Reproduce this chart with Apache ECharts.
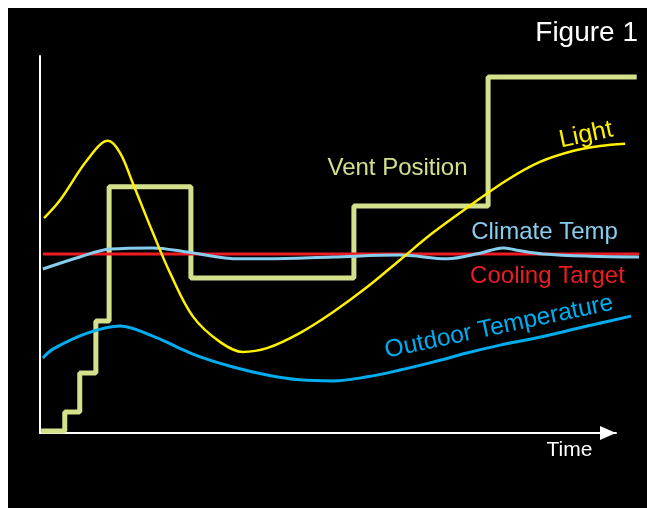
<!DOCTYPE html>
<html>
<head>
<meta charset="utf-8">
<script src="https://cdn.jsdelivr.net/npm/echarts@6/dist/echarts.min.js"></script>
<style>
  html, body { margin: 0; padding: 0; background: #fff; }
  #chart { position: absolute; left: 8px; top: 8px; width: 639px; height: 500px; background: #000; }
</style>
</head>
<body>
<div id="chart"></div>
<script>
// time runs 0..100 up to the arrow, curves carry on a little past it; values in arbitrary units 0..100
var ventTime = [0.2, 4.3, 6.9, 9.7, 12.0, 26.2, 54.5, 77.8, 103.6];
var ventPos = [0.5, 5.6, 15.9, 29.7, 65.3, 41.1, 60.2, 94.4, 94.4];

var lightTime = [0.7, 3.5, 8.2, 11.8, 13.9, 16.1, 19.6, 22.6, 26.6, 31.3, 35.2, 39.4, 45.1, 50.9, 56.8, 62.5, 68.2, 74.1, 81.1, 86.8, 92.5, 97.2, 101.6];
var light = [57.0, 61.8, 72.4, 77.5, 74.3, 66.3, 53.1, 42.4, 30.8, 24.1, 21.5, 22.5, 26.5, 32.1, 38.7, 45.9, 53.1, 59.7, 67.1, 71.9, 74.8, 76.1, 76.7];

var climateTime = [0.5, 6.9, 12.2, 19.6, 25.5, 34.7, 39.4, 50.9, 62.5, 70.7, 76.4, 80.4, 82.8, 87.3, 95.5, 104.0];
var climate = [43.5, 46.7, 48.8, 49.1, 48.0, 46.2, 46.2, 46.7, 47.2, 46.2, 47.7, 49.1, 48.5, 47.5, 46.9, 46.7];

var outdoorTime = [0.5, 2.3, 8.2, 13.9, 19.6, 23.8, 27.8, 33.5, 39.4, 45.1, 50.9, 56.8, 62.5, 68.2, 74.1, 79.9, 86.1, 94.3, 102.6];
var outdoor = [19.9, 22.3, 26.5, 28.4, 25.7, 22.8, 20.2, 17.5, 15.4, 14.1, 13.8, 14.9, 16.7, 18.8, 21.2, 23.3, 25.2, 28.1, 31.0];

var coolingTime = [0.5, 104.0];
var cooling = [47.5, 47.5];

function pairs(xs, ys) {
  return xs.map(function (x, i) { return [x, ys[i]]; });
}

var font = '"Liberation Sans", Arial, sans-serif';

function label(text, x, y, size, color, angle) {
  return {
    type: 'text',
    x: x,
    y: y,
    rotation: (angle || 0) * Math.PI / 180,
    style: {
      text: text,
      fill: color,
      fontSize: size,
      fontFamily: font,
      align: 'center',
      verticalAlign: 'middle'
    }
  };
}

function curve(name, xs, ys, color, width) {
  return {
    name: name,
    type: 'line',
    smooth: 0.35,
    data: pairs(xs, ys),
    symbol: 'none',
    clip: false,
    lineStyle: { color: color, width: width }
  };
}

var hidden = {
  axisLine: { show: false },
  axisTick: { show: false },
  axisLabel: { show: false },
  splitLine: { show: false }
};

var chart = echarts.init(document.getElementById('chart'));
var option = {
  backgroundColor: '#000',
  animation: false,
  grid: [
    // plot area, runs out to the right edge
    { left: 32, top: 48, width: 599, height: 377 },
    // the drawn axes, ending at the arrow
    { left: 32, top: 48, width: 576, height: 377 }
  ],
  xAxis: [
    Object.assign({ type: 'value', gridIndex: 0, min: 0, max: 104 }, hidden),
    {
      type: 'value',
      gridIndex: 1,
      min: 0,
      max: 100,
      axisLine: {
        onZero: false,
        symbol: ['none', 'triangle'],
        symbolSize: [14, 16],
        symbolOffset: [0, -8],
        lineStyle: { color: '#fff', width: 2 }
      },
      axisTick: { show: false },
      axisLabel: { show: false },
      splitLine: { show: false }
    }
  ],
  yAxis: [
    {
      type: 'value',
      gridIndex: 0,
      min: 0,
      max: 100,
      axisLine: { show: true, lineStyle: { color: '#fff', width: 2 } },
      axisTick: { show: false },
      axisLabel: { show: false },
      splitLine: { show: false }
    },
    Object.assign({ type: 'value', gridIndex: 1, min: 0, max: 100 }, hidden)
  ],
  series: [
    {
      name: 'Vent Position',
      type: 'line',
      step: 'end',
      data: pairs(ventTime, ventPos),
      symbol: 'none',
      clip: false,
      lineStyle: { color: '#d4e08b', width: 5 }
    },
    {
      name: 'Cooling Target',
      type: 'line',
      data: pairs(coolingTime, cooling),
      symbol: 'none',
      clip: false,
      lineStyle: { color: '#ed1c24', width: 3 }
    },
    curve('Climate Temp', climateTime, climate, '#87cdee', 3),
    curve('Outdoor Temperature', outdoorTime, outdoor, '#00aeef', 3),
    curve('Light', lightTime, light, '#fff200', 2.5)
  ],
  graphic: [
    {
      type: 'text',
      right: 9,
      top: 11,
      style: { text: 'Figure 1', fill: '#fff', fontSize: 28, fontFamily: font }
    },
    label('Vent Position', 389.5, 160, 24, '#d4e08b'),
    label('Light', 578, 127, 25, '#fff200', 12),
    label('Climate Temp', 536.5, 224.5, 24, '#87cdee'),
    label('Cooling Target', 539.5, 268, 24, '#ed1c24'),
    label('Outdoor Temperature', 491, 319, 24.5, '#00aeef', 12),
    label('Time', 561.5, 442, 21, '#fff')
  ]
};
chart.setOption(option);
</script>
</body>
</html>
